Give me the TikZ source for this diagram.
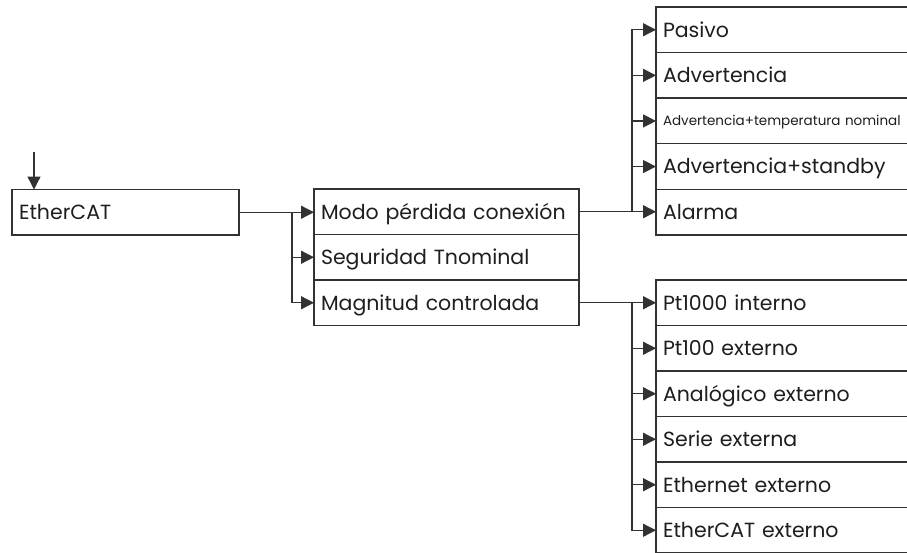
\documentclass[tikz,border=0pt]{standalone}
\usepackage{fontspec}
\setmainfont{Poppins}
\usetikzlibrary{arrows.meta}
\definecolor{linegray}{RGB}{50,50,50}
\definecolor{textgray}{RGB}{30,30,30}

\begin{document}
\begin{tikzpicture}[x=1pt, y=-1pt,
        box/.style={draw=linegray, line width=1.3pt, fill=white, anchor=north west, outer sep=0pt,
            inner xsep=7pt, inner ysep=0pt, text height=14.5pt, text depth=0pt, align=left,
            text=textgray, font=\fontsize{20.5}{24}\selectfont},
        midbox/.style={box, minimum height=45.5pt, text width=251pt},
        rbox/.style={box, minimum height=45.5pt, text width=256pt},
        link/.style={draw=linegray, line width=1.3pt, -{Triangle[length=13pt,width=13pt]}}]
        \useasboundingbox (0,0) rectangle (907,552);
        \clip (0,0) rectangle (907,552);

        \node[box, minimum height=45.5pt, text width=213pt] (ethercat) at (12,189.5) {EtherCAT};

        \node[midbox] (modo) at (314,189) {Modo pérdida conexión};
        \node[midbox] (seguridad) at (314,234.5) {Seguridad Tnominal};
        \node[midbox] (magnitud) at (314,280) {Magnitud controlada};

        \node[rbox] (pasivo) at (656,7) {Pasivo};
        \node[rbox] (advertencia) at (656,52.6) {Advertencia};
        \node[rbox, text height=10pt, font=\fontsize{13.5}{16}\selectfont] (advtemp) at (656,98.2) {Advertencia+temperatura nominal};
        \node[rbox] (advstandby) at (656,143.8) {Advertencia+standby};
        \node[rbox] (alarma) at (656,189.4) {Alarma};

        \node[rbox] (ptinterno) at (656,280) {Pt1000 interno};
        \node[rbox] (ptexterno) at (656,325.5) {Pt100 externo};
        \node[rbox] (analogico) at (656,371) {Analógico externo};
        \node[rbox] (serie) at (656,416.5) {Serie externa};
        \node[rbox] (ethernet) at (656,462) {Ethernet externo};
        \node[rbox] (ethercatext) at (656,507.5) {EtherCAT externo};

        % entrada
        \coordinate (entrada) at (34,152);
        \draw[link] (entrada) -- (entrada |- ethercat.north);

        % EtherCAT -> modos
        \coordinate (rama1) at (292,212.25);
        \draw[link] (ethercat.east) -- (ethercat.east -| modo.west);
        \draw[link] (rama1) |- (seguridad.west);
        \draw[link] (rama1) |- (magnitud.west);

        % perdida de conexion
        \coordinate (rama2) at (632,211.75);
        \draw[link] (modo.east) -- (modo.east -| alarma.west);
        \draw[link] (rama2) |- (pasivo.west);
        \draw[link] (rama2) |- (advertencia.west);
        \draw[link] (rama2) |- (advtemp.west);
        \draw[link] (rama2) |- (advstandby.west);

        % magnitud controlada
        \coordinate (rama3) at (632,302.75);
        \draw[link] (magnitud.east) -- (magnitud.east -| ptinterno.west);
        \draw[link] (rama3) |- (ptexterno.west);
        \draw[link] (rama3) |- (analogico.west);
        \draw[link] (rama3) |- (serie.west);
        \draw[link] (rama3) |- (ethernet.west);
        \draw[link] (rama3) |- (ethercatext.west);
\end{tikzpicture}
\end{document}
